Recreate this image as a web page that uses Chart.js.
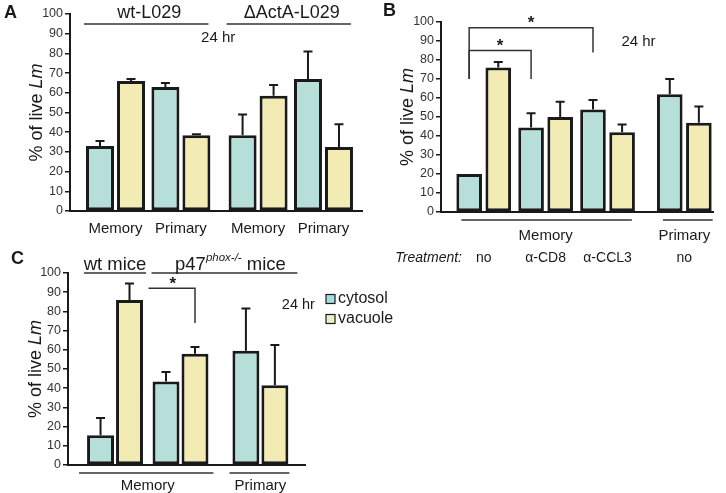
<!DOCTYPE html>
<html>
<head>
<meta charset="utf-8">
<script src="https://cdn.jsdelivr.net/npm/chart.js@4.4.1/dist/chart.umd.min.js"></script>
<style>
  body{margin:0;background:#fff;width:726px;height:493px;position:relative;overflow:hidden}
  canvas{position:absolute}
  #cA{left:0;top:0}
  #cB{left:370px;top:0}
  #cC{left:0;top:245px}
</style>
</head>
<body>
<canvas id="cA" width="370" height="250"></canvas>
<canvas id="cB" width="356" height="270"></canvas>
<canvas id="cC" width="420" height="248"></canvas>
<script>
// A: wt vs dActA infection
const A_GROUPS   = ["Memory", "Primary", "Memory", "Primary"];
const A_STRAINS  = ["wt-L029", "\u0394ActA-L029"];
const A_CYTO     = [33, 63, 38.5, 67];
const A_CYTO_ERR = [35.5, 65, 49, 81];
const A_VAC      = [66, 38.5, 58.5, 32.5];
const A_VAC_ERR  = [67, 39, 64, 44];

// B: antibody treatment
const B_TREAT    = ["no", "\u03b1-CD8", "\u03b1-CCL3", "no"];
const B_CATS     = ["Memory", "Primary"];
const B_CYTO     = [20, 44.5, 54, 62];
const B_CYTO_ERR = [null, 52, 59, 70];
const B_VAC      = [76, 50, 42, 47];
const B_VAC_ERR  = [79, 58, 46, 55.5];

// C: wt vs p47phox-/- mice
const C_CATS     = ["Memory", "Primary"];
const C_CYTO     = [15.5, 43.5, 59.5];
const C_CYTO_ERR = [24.5, 48.5, 81.5];
const C_VAC      = [86, 58, 41.5];
const C_VAC_ERR  = [94.5, 61.5, 62.5];

const SERIES = ["cytosol", "vacuole"];
const COL_CYTO = "#b7dfda", COL_VAC = "#f2ebb3";
const FONT = "'Liberation Sans', Arial, Helvetica, sans-serif";
const INK = "#1a1a1a";

function txt(ctx, s, x, y, font, align, base){
  ctx.save();
  ctx.font = font; ctx.fillStyle = INK;
  ctx.textAlign = align || "center"; ctx.textBaseline = base || "middle";
  ctx.fillText(s, x, y);
  ctx.restore();
}
function seg(ctx, pts, w){
  ctx.save();
  ctx.strokeStyle = "#333"; ctx.lineWidth = w || 1.5;
  ctx.beginPath();
  pts.forEach((p, i) => i ? ctx.lineTo(p[0], p[1]) : ctx.moveTo(p[0], p[1]));
  ctx.stroke();
  ctx.restore();
}
function bar(chart, ds, i){
  const b = chart.getDatasetMeta(ds).data[i];
  return { x: b.x, l: b.x - b.width / 2, r: b.x + b.width / 2, y: b.y };
}
function yTitle(chart, x){
  const ctx = chart.ctx, a = chart.chartArea, cy = (a.top + a.bottom) / 2;
  ctx.save();
  ctx.translate(x, cy); ctx.rotate(-Math.PI / 2);
  ctx.fillStyle = INK; ctx.textBaseline = "middle"; ctx.textAlign = "left";
  ctx.font = "18px " + FONT; const w1 = ctx.measureText("% of live ").width;
  ctx.font = "italic 18px " + FONT; const w2 = ctx.measureText("Lm").width;
  ctx.font = "18px " + FONT; ctx.fillText("% of live ", -(w1 + w2) / 2, 0);
  ctx.font = "italic 18px " + FONT; ctx.fillText("Lm", -(w1 + w2) / 2 + w1, 0);
  ctx.restore();
}

const errorBars = {
  id: "errorBars",
  afterDatasetsDraw(chart){
    const ctx = chart.ctx, y = chart.scales.y;
    chart.data.datasets.forEach((ds, di) => {
      chart.getDatasetMeta(di).data.forEach((b, i) => {
        const v = ds.errTop[i];
        if (v == null) return;
        const py = y.getPixelForValue(v);
        ctx.save();
        ctx.strokeStyle = INK; ctx.lineWidth = 2;
        ctx.beginPath();
        ctx.moveTo(b.x, b.y); ctx.lineTo(b.x, py);
        ctx.moveTo(b.x - 4.5, py); ctx.lineTo(b.x + 4.5, py);
        ctx.stroke();
        ctx.restore();
      });
    });
  }
};

function makePanel(id, p){
  const canvas = document.getElementById(id);
  const pos = p.cyto.map((_, i) => i + (i >= p.gapAt ? p.gap : 0));
  const tickVals = p.tickGroups.map(g => g.reduce((s, i) => s + pos[i], 0) / g.length);
  const set = (label, vals, err, color) => ({
    label, data: vals.map((v, i) => ({ x: pos[i], y: v })), errTop: err,
    backgroundColor: color, borderColor: INK, borderWidth: 3, borderSkipped: false,
    categoryPercentage: p.cp, barPercentage: p.bp
  });
  return new Chart(canvas, {
    type: "bar",
    data: { datasets: [set(SERIES[0], p.cyto, p.cytoErr, COL_CYTO), set(SERIES[1], p.vac, p.vacErr, COL_VAC)] },
    options: {
      responsive: false, animation: false, devicePixelRatio: 1,
      layout: { padding: { left: 0, top: p.top, right: p.right, bottom: 0 } },
      plugins: { legend: { display: false }, tooltip: { enabled: false } },
      scales: {
        x: {
          type: "linear", min: p.xMin, max: p.xMax, offset: false,
          afterBuildTicks: s => { s.ticks = tickVals.map(v => ({ value: v })); },
          afterFit: s => { s.height = canvas.height - p.bottom; },
          grid: { display: false, drawTicks: false, offset: false },
          border: { display: true, color: INK, width: 2 },
          ticks: { autoSkip: false, maxRotation: 0, padding: p.tickPad, color: INK,
                   font: { family: FONT, size: 15 }, callback: (v, i) => p.tickLabels[i] }
        },
        y: {
          min: 0, max: 100,
          afterFit: s => { s.width = p.axisW; },
          grid: { drawOnChartArea: false, drawTicks: true, tickLength: 5, color: INK, lineWidth: 1.5 },
          border: { display: true, color: INK, width: 2 },
          ticks: { stepSize: 10, padding: 2, color: "#333", font: { family: FONT, size: 12.5 } }
        }
      }
    },
    plugins: [errorBars, { id: "annot" + id, afterDraw: c => p.draw(c, c.ctx) }]
  });
}

// Panel A
makePanel("cA", {
  cyto: A_CYTO, cytoErr: A_CYTO_ERR, vac: A_VAC, vacErr: A_VAC_ERR,
  gapAt: 2, gap: 0.18, xMin: -0.696, xMax: 3.769, cp: 0.948, bp: 0.903,
  axisW: 70, top: 14, right: 8, bottom: 211, tickPad: 9,
  tickGroups: [[0], [1], [2], [3]], tickLabels: A_GROUPS,
  draw(c, ctx){
    txt(ctx, "A", 4, 13, "bold 18px " + FONT, "left");
    yTitle(c, 37);
    const y = c.scales.y, x = c.scales.x;
    [[0, 1], [2, 3]].forEach((g, k) => {
      const l = bar(c, 0, g[0]).l - 2, r = bar(c, 1, g[1]).r - 2;
      seg(ctx, [[l, 24], [r, 24]]);
      txt(ctx, A_STRAINS[k], (l + r) / 2 + 3, 13, "18px " + FONT);
    });
    txt(ctx, "24 hr", x.getPixelForValue(1.57), y.getPixelForValue(88), "15px " + FONT);
  }
});

// Panel B
makePanel("cB", {
  cyto: B_CYTO, cytoErr: B_CYTO_ERR, vac: B_VAC, vacErr: B_VAC_ERR,
  gapAt: 3, gap: 0.24, xMin: -0.69, xMax: 3.707, cp: 0.94, bp: 0.88,
  axisW: 71, top: 22, right: 8, bottom: 212, tickPad: 15,
  tickGroups: [[0, 1, 2], [3]], tickLabels: B_CATS,
  draw(c, ctx){
    txt(ctx, "B", 13, 11, "bold 18px " + FONT, "left");
    yTitle(c, 38);
    const y = c.scales.y, x = c.scales.x, base = c.chartArea.bottom;
    // category underlines
    seg(ctx, [[bar(c, 0, 0).l + 5, base + 8], [bar(c, 1, 2).r - 3, base + 8]]);
    seg(ctx, [[bar(c, 0, 3).l + 6, base + 8], [bar(c, 1, 3).r + 1, base + 8]]);
    // treatment row
    txt(ctx, "Treatment:", 92, 258, "italic 14px " + FONT, "right");
    B_TREAT.forEach((t, i) => txt(ctx, t, (bar(c, 0, i).l + bar(c, 1, i).r) / 2, 258, "14px " + FONT));
    // significance brackets
    const x0 = bar(c, 0, 0).x;
    [[2, 97, 84], [1, 85, 70]].forEach(([to, top, end]) => {
      const x1 = bar(c, 0, to).x, py = y.getPixelForValue(top);
      seg(ctx, [[x0, y.getPixelForValue(70)], [x0, py], [x1, py], [x1, y.getPixelForValue(end)]]);
      txt(ctx, "*", (x0 + x1) / 2, py - 4, "bold 17px " + FONT);
    });
    txt(ctx, "24 hr", x.getPixelForValue(2.5), y.getPixelForValue(89.5), "15px " + FONT);
  }
});

// Panel C
makePanel("cC", {
  cyto: C_CYTO, cytoErr: C_CYTO_ERR, vac: C_VAC, vacErr: C_VAC_ERR,
  gapAt: 2, gap: 0.22, xMin: -0.718, xMax: 2.901, cp: 0.885, bp: 0.93,
  axisW: 68, top: 28, right: 115, bottom: 220, tickPad: 12,
  tickGroups: [[0, 1], [2]], tickLabels: C_CATS,
  draw(c, ctx){
    txt(ctx, "C", 11, 14, "bold 18px " + FONT, "left");
    yTitle(c, 36);
    const y = c.scales.y, x = c.scales.x, base = c.chartArea.bottom;
    // category underlines
    seg(ctx, [[bar(c, 0, 0).l - 8, base + 8], [bar(c, 1, 1).r + 5, base + 8]]);
    seg(ctx, [[bar(c, 0, 2).l - 3, base + 8], [bar(c, 1, 2).r + 1, base + 8]]);
    // mouse strain headers
    const wl = bar(c, 0, 0).l - 3, wr = bar(c, 1, 0).r + 3;
    seg(ctx, [[wl, 28], [wr, 28]]);
    txt(ctx, "wt mice", (wl + wr) / 2, 20, "18.5px " + FONT);
    const pl = bar(c, 0, 1).l - 1, pr = bar(c, 1, 2).r + 9;
    seg(ctx, [[pl, 28], [pr, 28]]);
    ctx.save();
    ctx.font = "18.5px " + FONT; const a = ctx.measureText("p47").width, m = ctx.measureText(" mice").width;
    ctx.font = "italic 11.5px " + FONT; const s = ctx.measureText("phox-/-").width;
    ctx.restore();
    let sx = (pl + pr) / 2 + 6 - (a + s + m) / 2;
    txt(ctx, "p47", sx, 20, "18.5px " + FONT, "left");
    txt(ctx, "phox-/-", sx + a, 13, "italic 11.5px " + FONT, "left");
    txt(ctx, " mice", sx + a + s, 20, "18.5px " + FONT, "left");
    // significance bracket
    const bl = bar(c, 0, 1).l - 4, br = bar(c, 1, 1).x, by = y.getPixelForValue(92);
    seg(ctx, [[bl, by], [br, by], [br, y.getPixelForValue(74)]]);
    txt(ctx, "*", (bl + br) / 2 + 1, by - 4, "bold 17px " + FONT);
    // 24 hr + legend
    txt(ctx, "24 hr", x.getPixelForValue(2.8), 60, "14.5px " + FONT);
    [["#a6dbe3", 54], ["#f0eec4", 74]].forEach(([col, cy], i) => {
      ctx.save();
      ctx.fillStyle = col; ctx.strokeStyle = INK; ctx.lineWidth = 1.2;
      ctx.fillRect(326, cy - 4.5, 9, 9); ctx.strokeRect(326, cy - 4.5, 9, 9);
      ctx.restore();
      txt(ctx, SERIES[i], 338, cy, "16px " + FONT, "left");
    });
  }
});
</script>
</body>
</html>
